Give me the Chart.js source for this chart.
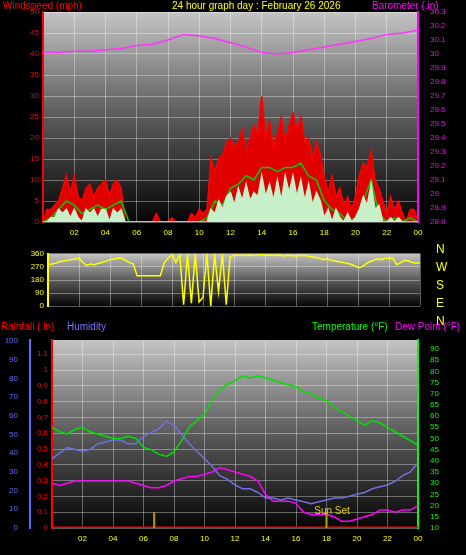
<!DOCTYPE html>
<html>
<head>
<meta charset="utf-8">
<script src="https://cdn.jsdelivr.net/npm/chart.js@4"></script>
<style>
    body { margin: 0; background: #000; width: 466px; height: 555px; overflow: hidden; font-family: "Liberation Sans", Arial, sans-serif; }
    canvas { position: absolute; left: 0; z-index: 1; }
    .lbl { position: absolute; font-size: 10px; white-space: nowrap; z-index: 2; line-height: 11px; }
</style>
</head>
<body>
<div class="lbl" style="left:3px;top:0;color:#f00">Windspeed (mph)</div>
<div class="lbl" style="left:172px;top:0;color:#ff0">24 hour graph day : February 26 2026</div>
<div class="lbl" style="left:372px;top:0;color:#f0f">Barometer (.in)</div>
<div class="lbl" style="left:436px;top:240px;color:#ff0;line-height:18px;font-size:12px">N<br>W<br>S<br>E<br>N</div>
<div class="lbl" style="left:1px;top:321px;color:#f00">Rainfall (.in)</div>
<div class="lbl" style="left:67px;top:321px;color:#77f">Humidity</div>
<div class="lbl" style="left:312px;top:321px;color:#0f0">Temperature (°F)</div>
<div class="lbl" style="left:395px;top:321px;color:#f0f">Dew Point (°F)</div>
<canvas id="windChart" style="top:0" width="466" height="245"></canvas>
<canvas id="dirChart" style="top:245px" width="466" height="70"></canvas>
<canvas id="climateChart" style="top:320px" width="466" height="235"></canvas>
<script>
// quarter hour wind samples (97 values, 00:00 - 24:00)
const windGust = [
    0,3,3,4, 5,8,11,7, 11,6,5,8, 9,6,8,9, 10,6,9,10, 8,0,0,0,
    0,0,0,0, 0,2,0,0, 0,1,0,0, 0,0,2,1, 3,2,3,15, 12,15,16,19,
    20,18,19,22, 17,20,23,21, 30,20,24,18, 21,25,19,23, 26,22,25,19, 20,15,19,16,
    11,7,11,6, 8,4,6,3, 6,11,14,13, 17,10,8,5, 2,6,3,5, 2,0,3,3, 0
];
const windLull = [
    0,0,1,1, 3,2,3,1, 3,1,0,3, 2,3,1,3, 3,0,3,2, 3,0,0,0,
    0,0,0,0, 0,0,0,0, 0,0,0,0, 0,0,0,0, 0,0,0,3, 2,5,3,6,
    7,4,8,5, 9,5,7,6, 11,6,9,5, 10,5,11,7, 11,6,10,5, 9,4,7,5,
    1,3,0,3, 1,0,2,0, 1,3,6,4, 9,3,4,0, 0,1,0,1, 0,0,0,0, 0
];
const windDir = [
    285,290,295,305, 310,315,320,325, 330,300,280,290, 285,295,300,310, 320,325,330,330, 315,300,290,210,
    210,210,210,210, 210,210,300,330, 355,300,355,10, 360,20,360,30, 60,360,0,360, 100,360,10,340,
    350,352,348,350, 352,348,350,355, 350,352,348,350, 352,345,350,348, 345,348,350,345, 340,335,330,320,
    325,315,310,305, 300,295,290,280, 265,270,290,305, 315,325,320,330, 330,330,285,300, 315,310,300,295, 300
];
// half hour samples (49 values)
const windAvg = [
    0,1,3,5,4,2,3,4,3,4,5,0, 0,0,0,0,0,0,0,0,0, 1,5,4,8,9,11,10,13,13,12,13,13,14,11,10,5,3,2,0,1,5,10,2,0,1,0,1,0
];
const humidity = [
    37,40,43,42,41,42,45,46,47,47,45,45,49,51,53,57,55,50,45,41,37,33,28,26,23,
    21,21,19,16,16,15,16,15,14,13,14,15,16,16,17,18,19,21,22,23,25,28,30,35
];
const temperature = [
    55,53,52,54,55,53,52,51,50,50,51,50,46,45,43,42,44,49,55,58,61,67,72,74,76,
    78,77,78,77,76,75,74,73,71,70,68,67,64,62,60,58,56,58,57,55,53,51,49,47
];
const dewPoint = [
    30,29,30,31,31,31,31,31,31,31,31,30,29,28,28,29,31,32,33,33,34,35,37,36,35,
    34,33,31,25,22,22,22,21,17,16,16,16,15,13,13,14,15,16,18,18,17,18,18,20
];
const rainfall = [0, 0];
const rainHours = [0, 24];
// hourly barometer
const barometer = [
    30.01,30.01,30.02,30.02,30.03,30.04,30.06,30.07,30.10,30.14,30.13,30.11,30.08,
    30.05,30.01,30.00,30.01,30.03,30.05,30.07,30.09,30.11,30.14,30.15,30.17
];
const hourLabels = ['02','04','06','08','10','12','14','16','18','20','22','00'];
const sunMarkers = [6.7, 18];

function toPoints(values, step) {
    return values.map(function(v, i) { return { x: i * step, y: v }; });
}

const bgPlugin = {
    id: 'bg',
    beforeDraw: function(chart) {
        const a = chart.chartArea;
        const ctx = chart.ctx;
        const g = ctx.createLinearGradient(0, a.top, 0, a.bottom);
        g.addColorStop(0, '#c4c4c4');
        g.addColorStop(0.5, '#5a5a5a');
        g.addColorStop(1, '#050505');
        ctx.save();
        ctx.fillStyle = '#000';
        ctx.fillRect(0, 0, chart.width, chart.height);
        ctx.fillStyle = g;
        ctx.fillRect(a.left, a.top, a.right - a.left, a.bottom - a.top);
        ctx.restore();
    }
};

const gridStyle = { color: 'rgba(255,255,255,0.35)', lineWidth: 1, drawTicks: false };
const tickFont = { family: 'Liberation Sans', size: 8 };

function hourAxis(height, show) {
    return {
        type: 'linear', min: 0, max: 24,
        afterBuildTicks: function(ax) { ax.ticks = hourLabels.map(function(l, i) { return { value: (i + 1) * 2 }; }); },
        afterFit: function(ax) { ax.height = height; },
        grid: { color: 'rgba(255,255,255,0.35)', drawTicks: false },
        border: { display: false },
        ticks: { display: show, color: '#ff0', font: tickFont, padding: 6, callback: function(v) { return hourLabels[v / 2 - 1]; } }
    };
}

// fixed tick values, so odd ranges still step from the minimum
function yAxis(opts) {
    return Object.assign({
        type: 'linear',
        border: { display: true, color: opts.color, width: 2 },
        afterFit: function(ax) { ax.width = opts.width; },
        afterBuildTicks: function(ax) {
            const ticks = [];
            for (let v = opts.first; v <= opts.last + 1e-9; v += opts.step) {
                ticks.push({ value: Math.round(v * 100) / 100 });
            }
            ax.ticks = ticks;
        },
        ticks: { color: opts.color, font: tickFont, padding: 4, autoSkip: false, callback: function(v) { return String(v); } },
        grid: opts.grid ? gridStyle : { display: false }
    }, opts.extra);
}

Chart.defaults.animation = false;
Chart.defaults.responsive = false;
Chart.defaults.plugins.legend.display = false;
Chart.defaults.plugins.tooltip.enabled = false;
Chart.defaults.elements.point.radius = 0;

new Chart(document.getElementById('windChart'), {
    type: 'line',
    data: {
        datasets: [
            { data: toPoints(windLull, 0.25), borderColor: '#c8f0c8', backgroundColor: '#c8f0c8', borderWidth: 1.5, fill: 'origin', yAxisID: 'y', order: 1 },
            { data: toPoints(windAvg, 0.5), borderColor: '#00d000', borderWidth: 1.5, yAxisID: 'y', order: 2 },
            { data: toPoints(windGust, 0.25), borderColor: '#ff0000', backgroundColor: '#e00000', borderWidth: 1.5, fill: 'origin', yAxisID: 'y', order: 3 },
            { data: toPoints(barometer, 1), borderColor: '#ff33ff', borderWidth: 1.5, yAxisID: 'y2', order: 0 }
        ]
    },
    options: {
        layout: { padding: { top: 12 } },
        scales: {
            x: hourAxis(23, true),
            y: yAxis({ color: '#f00', width: 43, step: 5, first: 0, last: 50, grid: true, extra: { min: 0, max: 50 } }),
            y2: yAxis({ color: '#f0f', width: 48, step: 0.1, first: 28.8, last: 30.3, extra: { position: 'right', min: 28.8, max: 30.3 } })
        }
    },
    plugins: [bgPlugin]
});

new Chart(document.getElementById('dirChart'), {
    type: 'line',
    data: {
        datasets: [
            { data: toPoints(windDir, 0.25), borderColor: '#ffff00', borderWidth: 1.5, yAxisID: 'y' }
        ]
    },
    options: {
        layout: { padding: { top: 3, bottom: 4, right: 46 } },
        scales: {
            x: hourAxis(0, false),
            y: yAxis({ color: '#ff0', width: 48, step: 90, first: 0, last: 360, grid: true, extra: { min: 0, max: 360 } })
        }
    },
    plugins: [bgPlugin]
});

const sunPlugin = {
    id: 'sun',
    afterDatasetsDraw: function(chart) {
        const ctx = chart.ctx;
        const x = chart.scales.x;
        const y = chart.scales.yr;
        ctx.save();
        ctx.strokeStyle = '#b0a000';
        ctx.lineWidth = 2;
        sunMarkers.forEach(function(h) {
            ctx.beginPath();
            ctx.moveTo(x.getPixelForValue(h), y.getPixelForValue(0));
            ctx.lineTo(x.getPixelForValue(h), y.getPixelForValue(0.1));
            ctx.stroke();
        });
        ctx.fillStyle = '#e0d000';
        ctx.font = '10px Liberation Sans';
        ctx.fillText('Sun Set', x.getPixelForValue(17.2), y.getPixelForValue(0.1) + 2);
        ctx.restore();
    }
};

new Chart(document.getElementById('climateChart'), {
    type: 'line',
    data: {
        datasets: [
            { data: toPoints(humidity, 0.5), borderColor: '#7070e0', borderWidth: 1.5, yAxisID: 'yh' },
            { data: toPoints(dewPoint, 0.5), borderColor: '#ff00ff', borderWidth: 1.5, yAxisID: 'yt' },
            { data: toPoints(temperature, 0.5), borderColor: '#00e000', borderWidth: 1.5, yAxisID: 'yt' },
            { data: rainHours.map(function(h, i) { return { x: h, y: rainfall[i] }; }), borderColor: '#ff0000', borderWidth: 3, yAxisID: 'yr' }
        ]
    },
    options: {
        layout: { padding: { top: 20 } },
        scales: {
            x: hourAxis(27, true),
            yr: yAxis({ color: '#f00', width: 22, step: 0.1, first: 0, last: 1.1, grid: true, extra: { position: 'left', min: 0, max: 1.19 } }),
            yh: yAxis({ color: '#66f', width: 30, step: 10, first: 0, last: 100, extra: { position: 'left', min: 0, max: 100.5 } }),
            yt: yAxis({ color: '#0f0', width: 48, step: 5, first: 10, last: 90, extra: { position: 'right', min: 10, max: 94 } })
        }
    },
    plugins: [bgPlugin, sunPlugin]
});
</script>
</body>
</html>
